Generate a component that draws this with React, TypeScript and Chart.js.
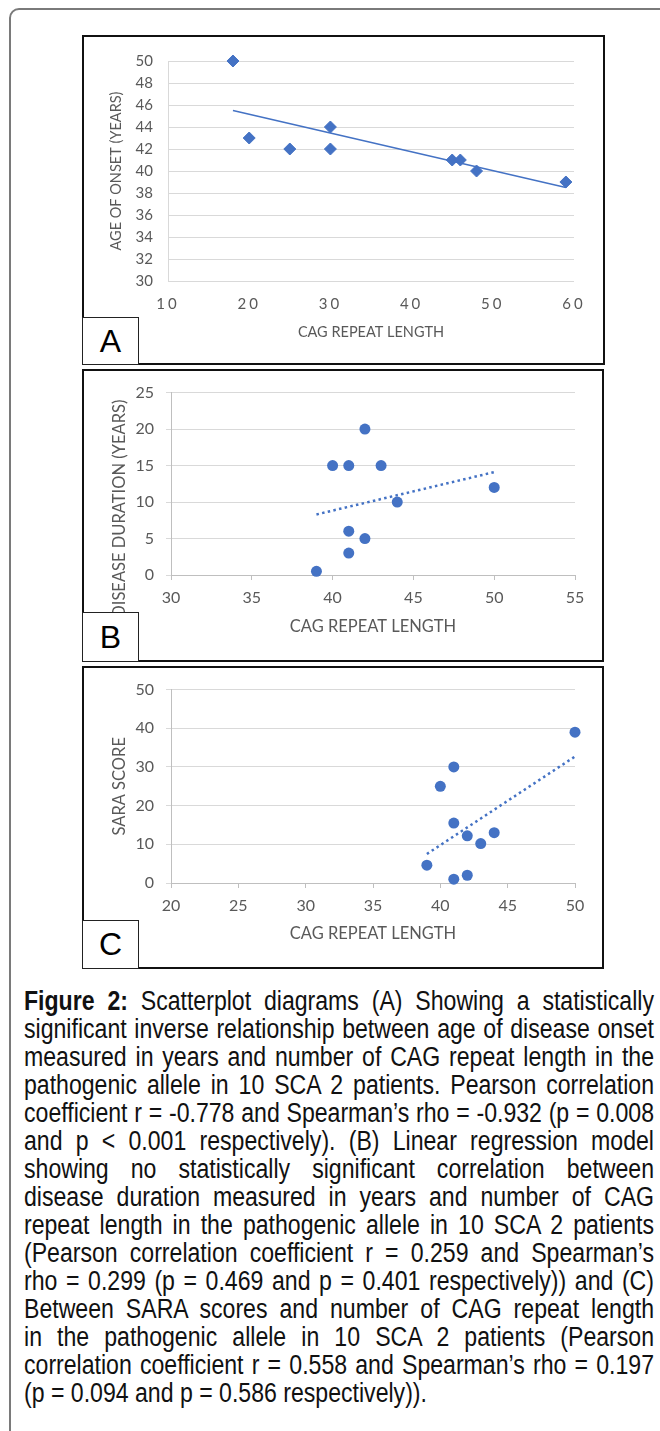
import React, { useEffect, useRef } from 'react';
import { Chart, registerables } from 'chart.js';

Chart.register(...registerables);

// ---------- Panel A : age of onset vs CAG repeat length ----------
const cagA = [18, 20, 25, 30, 30, 45, 46, 48, 59];
const onsetA = [50, 43, 42, 44, 42, 41, 41, 40, 39];
const trendAX = [18, 59];
const trendAY = [45.5, 38.5];
const xTicksA = [10, 20, 30, 40, 50, 60];
const yTicksA = [30, 32, 34, 36, 38, 40, 42, 44, 46, 48, 50];

// ---------- Panel B : disease duration vs CAG repeat length ----------
const cagB = [39, 40, 41, 41, 41, 42, 42, 43, 44, 50];
const durationB = [0.5, 15, 15, 6, 3, 20, 5, 15, 10, 12];
const trendBX = [39, 50];
const trendBY = [8.3, 14.1];
const xTicksB = [30, 35, 40, 45, 50, 55];
const yTicksB = [0, 5, 10, 15, 20, 25];

// ---------- Panel C : SARA score vs CAG repeat length ----------
const cagC = [39, 40, 41, 41, 41, 42, 42, 43, 44, 50];
const saraC = [4.6, 25, 30, 15.5, 1, 12.2, 2, 10.2, 13, 39];
const trendCX = [39, 50];
const trendCY = [7.5, 32.7];
const xTicksC = [20, 25, 30, 35, 40, 45, 50];
const yTicksC = [0, 10, 20, 30, 40, 50];

const X_TITLE = 'CAG REPEAT LENGTH';
const Y_TITLE_A = 'AGE OF ONSET (YEARS)';
const Y_TITLE_B = 'DISEASE DURATION (YEARS)';
const Y_TITLE_C = 'SARA SCORE';

const CAPTION_BOLD = 'Figure 2:';
const captionLines = [
  ' Scatterplot diagrams (A) Showing a statistically',
  'significant inverse relationship between age of disease onset',
  'measured in years and number of CAG repeat length in the',
  'pathogenic allele in 10 SCA 2 patients. Pearson correlation',
  'coefficient r = -0.778 and Spearman\u2019s rho = -0.932 (p = 0.008',
  'and p < 0.001 respectively). (B) Linear regression model',
  'showing no statistically significant correlation between',
  'disease duration measured in years and number of CAG',
  'repeat length in the pathogenic allele in 10 SCA 2 patients',
  '(Pearson correlation coefficient r = 0.259 and Spearman\u2019s',
  'rho = 0.299 (p = 0.469 and p = 0.401 respectively)) and (C)',
  'Between SARA scores and number of CAG repeat length',
  'in the pathogenic allele in 10 SCA 2 patients (Pearson',
  'correlation coefficient r = 0.558 and Spearman\u2019s rho = 0.197',
  '(p = 0.094 and p = 0.586 respectively)).',
];

const BLUE = '#4472C4';
const TICK_COLOR = '#595959';
const GRID_COLOR = '#D9D9D9';
const AXIS_COLOR = '#BFBFBF';
const CHART_FONT = 'Lato, "Open Sans", sans-serif';

// letter-spaced x tick labels (panel A)
const spacedXLabels = {
  id: 'spacedXLabels',
  beforeDraw(chart: any, _a: any, opts: any) {
    const s: any = chart.scales.x;
    if (!opts || !opts.spacing || !s || s.__spaced) return;
    const orig = s.drawLabels;
    s.drawLabels = function (area: any) {
      const ctx = this.ctx;
      ctx.save();
      ctx.letterSpacing = opts.spacing;
      orig.call(this, area);
      ctx.restore();
    };
    s.__spaced = true;
  },
};

// y title that is longer than the plot height (panel B)
const longYTitle = {
  id: 'longYTitle',
  afterDraw(chart: any, _a: any, opts: any) {
    if (!opts || !opts.text) return;
    const ctx = chart.ctx;
    const area = chart.chartArea;
    ctx.save();
    ctx.translate(area.left - opts.dx, area.top + opts.dy);
    ctx.rotate(-Math.PI / 2);
    ctx.font = `${opts.size}px ${CHART_FONT}`;
    ctx.fillStyle = TICK_COLOR;
    ctx.textAlign = 'right';
    ctx.textBaseline = 'middle';
    ctx.fillText(opts.text, 0, 0);
    ctx.restore();
  },
};

type Spec = {
  xs: number[]; ys: number[]; tx: number[]; ty: number[];
  xTicks: number[]; yTicks: number[];
  pointStyle: string; pointRadius: number; pointBorder: number;
  trendWidth: number; trendDash: number[];
  yTitle: string; manualYTitle: boolean;
  pad: { left: number; right: number; top: number; bottom: number };
  yWidth: number; xHeight: number;
  tickSize: number; titleSize: number;
  yTickPad: number; xTickPad: number;
  drawTicks: boolean;
  yTitlePad: number; xTitlePad: number;
  letterSpacing: string | null;
};

function makeConfig(p: Spec): any {
  const tickFont = { family: CHART_FONT, size: p.tickSize };
  const titleFont = { family: CHART_FONT, size: p.titleSize };
  return {
    type: 'scatter',
    data: {
      datasets: [
        {
          data: p.tx.map((x, i) => ({ x, y: p.ty[i] })),
          showLine: true,
          borderColor: BLUE,
          borderWidth: p.trendWidth,
          borderDash: p.trendDash,
          pointRadius: 0,
          fill: false,
          clip: false,
        },
        {
          data: p.xs.map((x, i) => ({ x, y: p.ys[i] })),
          pointStyle: p.pointStyle,
          pointRadius: p.pointRadius,
          pointBackgroundColor: BLUE,
          pointBorderColor: BLUE,
          pointBorderWidth: p.pointBorder,
          showLine: false,
          clip: false,
        },
      ],
    },
    options: {
      responsive: false,
      animation: false,
      events: [],
      layout: { padding: p.pad },
      plugins: {
        legend: { display: false },
        tooltip: { enabled: false },
        spacedXLabels: { spacing: p.letterSpacing },
        longYTitle: p.manualYTitle
          ? { text: p.yTitle, size: p.titleSize, dx: 51, dy: 7 }
          : { text: null },
      },
      scales: {
        x: {
          type: 'linear',
          min: p.xTicks[0],
          max: p.xTicks[p.xTicks.length - 1],
          afterBuildTicks: (s: any) => { s.ticks = p.xTicks.map((v) => ({ value: v })); },
          afterFit: (s: any) => { s.height = p.xHeight; },
          grid: p.drawTicks
            ? { display: true, drawOnChartArea: false, drawTicks: true, tickLength: 5, color: AXIS_COLOR }
            : { display: false, drawTicks: false },
          border: p.drawTicks ? { display: true, color: AXIS_COLOR } : { display: false },
          ticks: { color: TICK_COLOR, font: tickFont, padding: p.xTickPad, maxRotation: 0, autoSkip: false },
          title: {
            display: true,
            text: X_TITLE,
            color: TICK_COLOR,
            font: titleFont,
            padding: { top: 0, bottom: p.xTitlePad },
          },
        },
        y: {
          type: 'linear',
          min: p.yTicks[0],
          max: p.yTicks[p.yTicks.length - 1],
          afterBuildTicks: (s: any) => { s.ticks = p.yTicks.map((v) => ({ value: v })); },
          afterFit: (s: any) => { s.width = p.yWidth; },
          grid: { color: GRID_COLOR, drawTicks: p.drawTicks, tickLength: 5, lineWidth: 1 },
          border: { display: true, color: p.drawTicks ? AXIS_COLOR : GRID_COLOR },
          ticks: { color: TICK_COLOR, font: tickFont, padding: p.yTickPad, autoSkip: false },
          title: {
            display: !p.manualYTitle,
            text: p.yTitle,
            color: TICK_COLOR,
            font: titleFont,
            padding: { top: p.yTitlePad, bottom: 0 },
          },
        },
      },
    },
    plugins: [spacedXLabels, longYTitle],
  };
}

type Box = { x: number; y: number; w: number; h: number; label: string; labelTop: number };

function Panel({ box, spec }: { box: Box; spec: Spec }) {
  const ref = useRef<HTMLCanvasElement>(null);
  useEffect(() => {
    const chart = new Chart(ref.current as HTMLCanvasElement, makeConfig(spec));
    return () => chart.destroy();
  }, []);
  return (
    <>
      <div
        style={{
          position: 'absolute', left: box.x, top: box.y, width: box.w, height: box.h,
          boxSizing: 'border-box', border: '2px solid #111',
        }}
      >
        <canvas
          ref={ref}
          width={box.w - 4}
          height={box.h - 4}
          style={{ position: 'absolute', left: 0, top: 0, display: 'block' }}
        />
      </div>
      <div
        style={{
          position: 'absolute', left: box.x, top: box.labelTop, width: 57,
          height: box.y + box.h - box.labelTop, boxSizing: 'border-box',
          border: '1px solid #222', background: '#fff',
          display: 'flex', alignItems: 'center', justifyContent: 'center',
          fontFamily: '"Liberation Sans", Arial, sans-serif', fontSize: 32, color: '#000',
        }}
      >
        {box.label}
      </div>
    </>
  );
}

const specA: Spec = {
  xs: cagA, ys: onsetA, tx: trendAX, ty: trendAY, xTicks: xTicksA, yTicks: yTicksA,
  pointStyle: 'rectRot', pointRadius: 6, pointBorder: 1,
  trendWidth: 1.5, trendDash: [],
  yTitle: Y_TITLE_A, manualYTitle: false,
  pad: { left: 20, right: 29, top: 19, bottom: 0 },
  yWidth: 64, xHeight: 82,
  tickSize: 15, titleSize: 14.5,
  yTickPad: 15, xTickPad: 14,
  drawTicks: false,
  yTitlePad: 4, xTitlePad: 22,
  letterSpacing: '3px',
};

const specB: Spec = {
  xs: cagB, ys: durationB, tx: trendBX, ty: trendBY, xTicks: xTicksB, yTicks: yTicksB,
  pointStyle: 'circle', pointRadius: 5.5, pointBorder: 0,
  trendWidth: 2.5, trendDash: [2.5, 3.3],
  yTitle: Y_TITLE_B, manualYTitle: true,
  pad: { left: 22, right: 27, top: 19, bottom: 0 },
  yWidth: 65, xHeight: 85,
  tickSize: 16, titleSize: 16.5,
  yTickPad: 12, xTickPad: 8,
  drawTicks: true,
  yTitlePad: 4, xTitlePad: 23,
  letterSpacing: null,
};

const specC: Spec = {
  xs: cagC, ys: saraC, tx: trendCX, ty: trendCY, xTicks: xTicksC, yTicks: yTicksC,
  pointStyle: 'circle', pointRadius: 5.5, pointBorder: 0,
  trendWidth: 2.5, trendDash: [2.5, 3.3],
  yTitle: Y_TITLE_C, manualYTitle: false,
  pad: { left: 22, right: 27, top: 18, bottom: 0 },
  yWidth: 65, xHeight: 84,
  tickSize: 16, titleSize: 16.5,
  yTickPad: 12, xTickPad: 8,
  drawTicks: true,
  yTitlePad: 4, xTitlePad: 23,
  letterSpacing: null,
};

const boxA: Box = { x: 82, y: 35, w: 523, h: 330, label: 'A', labelTop: 317 };
const boxB: Box = { x: 82, y: 369, w: 522, h: 293, label: 'B', labelTop: 612 };
const boxC: Box = { x: 82, y: 666, w: 522, h: 303, label: 'C', labelTop: 920 };

const CAPTION_WIDTH = 630;
const CAPTION_SQUEEZE = 0.855;

export default function App() {
  return (
    <div
      style={{
        position: 'absolute', left: 0, top: 0, width: 660, height: 1431,
        overflow: 'hidden', background: '#fff',
      }}
    >
      <div
        style={{
          position: 'absolute', left: 9, top: 8, width: 720, height: 1520,
          boxSizing: 'border-box', border: '2px solid #7a7a7a', borderRadius: 10,
        }}
      />
      <Panel box={boxA} spec={specA} />
      <Panel box={boxB} spec={specB} />
      <Panel box={boxC} spec={specC} />
      <div
        style={{
          position: 'absolute', left: 24, top: 987, width: CAPTION_WIDTH / CAPTION_SQUEEZE,
          transform: `scaleX(${CAPTION_SQUEEZE})`, transformOrigin: '0 0',
          fontFamily: '"Liberation Sans", Arial, sans-serif',
          fontSize: 27, lineHeight: '28px', color: '#111',
        }}
      >
        {captionLines.map((line, i) => (
          <div
            key={i}
            style={{
              height: 28,
              textAlign: 'justify',
              textAlignLast: i === captionLines.length - 1 ? 'left' : 'justify',
              whiteSpace: 'nowrap',
            } as any}
          >
            {i === 0 ? <b>{CAPTION_BOLD}</b> : null}
            {line}
          </div>
        ))}
      </div>
    </div>
  );
}
